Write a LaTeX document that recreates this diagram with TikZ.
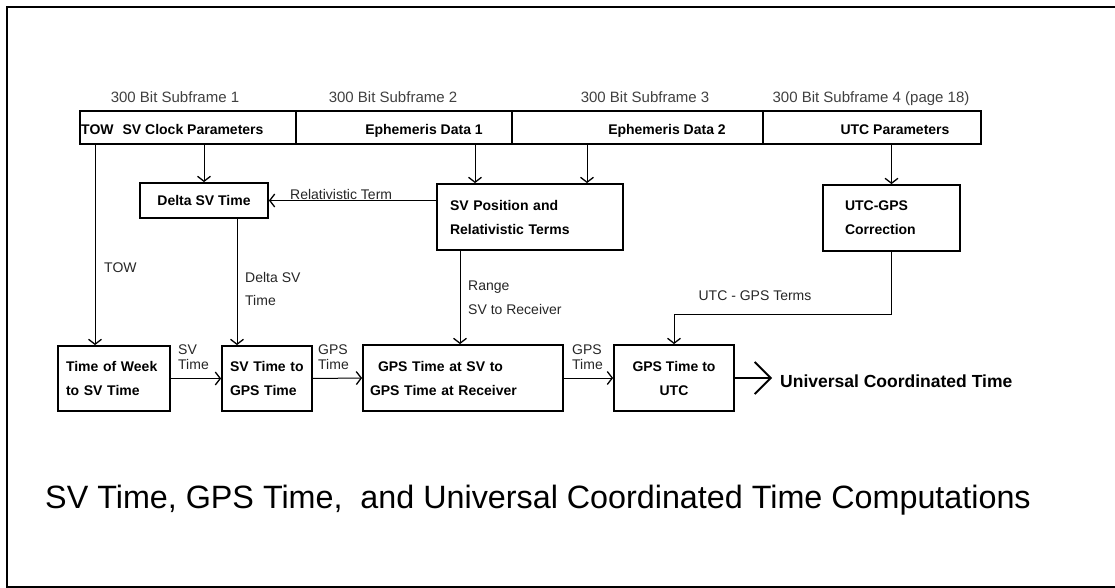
\documentclass[tikz,border=0pt]{standalone}
\usepackage{fontspec}
\setmainfont{Liberation Sans}
\usetikzlibrary{arrows.meta,calc}
\begin{document}
\begin{tikzpicture}[x=1pt,y=-1pt,
  box/.style={draw, line width=1.8pt, font=\bfseries\fontsize{14}{24}\selectfont, inner sep=0pt},
  cell/.style={draw, line width=1.3pt, minimum height=33pt, inner sep=0pt},
  celltext/.style={font=\bfseries\fontsize{14}{17}\selectfont, inner sep=0pt, anchor=base},
  lbl/.style={font=\fontsize{14}{24}\selectfont, text=black!85, inner sep=0pt, align=left},
  tight/.style={font=\fontsize{14}{15}\selectfont, text=black!85, inner sep=0pt, align=left, anchor=north west},
  sub/.style={font=\fontsize{15}{18}\selectfont, text=black!75, inner sep=0pt, anchor=base},
  conn/.style={line width=1pt, -{Straight Barb[length=5pt,width=13pt,line width=1.3pt]}},
  bigconn/.style={line width=1.5pt, -{Straight Barb[length=16pt,width=32pt,line width=1.8pt]}}
]
\useasboundingbox (0,0) rectangle (1115,588);
% outer frame (right edge cropped)
\draw[line width=1.5pt] (1115,7) -- (7,7) -- (7,587) -- (1115,587);

% subframe bar
\node[cell, minimum width=216pt] (c1) at (188,127.5) {};
\node[cell, minimum width=216pt] (c2) at (404,127.5) {};
\node[cell, minimum width=251pt] (c3) at (637.5,127.5) {};
\node[cell, minimum width=218pt] (c4) at (872,127.5) {};
\node[celltext, anchor=base west] (t1) at (81,135) {TOW\hspace{9pt}SV Clock Parameters};
\node[celltext] (t2) at (424,135) {Ephemeris Data 1};
\node[celltext] (t3) at (667,135) {Ephemeris Data 2};
\node[celltext] (t4) at (895,135) {UTC Parameters};

\node[sub] (s1) at (175,103) {300 Bit Subframe 1};
\node[sub] (s2) at (393,103) {300 Bit Subframe 2};
\node[sub] (s3) at (645,103) {300 Bit Subframe 3};
\node[sub] (s4) at (871,103) {300 Bit Subframe 4 (page 18)};

% middle boxes
\node[box, minimum width=128pt, minimum height=35pt] (dsv) at (204,200.5) {Delta SV Time};
\node[box, minimum height=66pt, text width=160pt, inner xsep=13pt, align=left] (svp) at (530,217) {SV Position and\\Relativistic Terms};
\node[box, minimum height=66pt, text width=93pt, inner xsep=22pt, align=left] (utcg) at (891.5,218) {UTC-GPS\\Correction};

% bottom boxes
\node[box, minimum height=65pt, text width=96pt, inner xsep=8pt, align=left] (tow) at (114,378.5) {Time of Week\\to SV Time};
\node[box, minimum height=65pt, text width=74pt, inner xsep=8pt, align=left] (svg) at (267,378.5) {SV Time to\\GPS Time};
\node[box, minimum height=66pt, text width=186pt, inner xsep=7pt, align=left] (gsv) at (463,378) {\hspace{8pt}GPS Time at SV to\\GPS Time at Receiver};
\node[box, minimum height=66pt, minimum width=120pt, align=center] (gutc) at (674,378) {GPS Time to\\UTC};
\coordinate (out) at (772,378);

% connector anchor points
\coordinate (pdsv) at ($(dsv.south)+(33,0)$);
\coordinate (psvp) at ($(svp.south)+(-70,0)$);
\coordinate (pe1) at ($(svp.north)+(-55,0)$);
\coordinate (pe2) at ($(svp.north)+(57,0)$);
\coordinate (ptow) at ($(tow.north)+(-19,0)$);
\coordinate (pcorner) at ($(gutc.north)+(0,-30)$);

% connectors from the bar
\draw[conn] (c1.south -| dsv.north) -- (dsv.north);
\draw[conn] (c2.south -| pe1) -- (pe1);
\draw[conn] (c3.south -| pe2) -- (pe2);
\draw[conn] (c4.south -| utcg.north) -- (utcg.north);
\draw[conn] (c1.south -| ptow) -- (ptow);

% relativistic term
\draw[conn] (svp.west |- dsv.east) -- (dsv.east);
\node[lbl, anchor=base west] (lrel) at (290,199) {Relativistic Term};

% vertical connectors
\draw[conn] (pdsv) -- (pdsv |- svg.north);
\draw[conn] (psvp) -- (psvp |- gsv.north);
\draw[conn] (utcg.south) |- (pcorner) -- (gutc.north);

\node[lbl, anchor=base west] (ltow) at (104,272) {TOW};
\node[lbl, anchor=north west, font=\fontsize{14}{23}\selectfont] (ldsv) at (245,272.5) {Delta SV\\Time};
\node[lbl, anchor=north west] (lrange) at (468,280.5) {Range\\SV to Receiver};
\node[lbl, anchor=base] (lutc) at (755,300) {UTC - GPS Terms};

% horizontal chain
\draw[conn] (tow.east) -- (svg.west);
\draw[conn] (svg.east) -- (gsv.west);
\draw[conn] (gsv.east) -- (gutc.west);
\draw[bigconn] (gutc.east) -- (out);

\node[tight] (l1) at (178,344.5) {SV\\Time};
\node[tight] (l2) at (318,344.5) {GPS\\Time};
\node[tight] (l3) at (572,344.5) {GPS\\Time};

\node[font=\bfseries\fontsize{17.5}{20}\selectfont, inner sep=0pt, anchor=base west] (utct) at (780,387) {Universal Coordinated Time};

\node[font=\fontsize{32.3}{36}\selectfont, inner sep=0pt, anchor=base] (title) at (538,508) {SV Time, GPS Time,\ \ and Universal Coordinated Time Computations};
\end{tikzpicture}
\end{document}
